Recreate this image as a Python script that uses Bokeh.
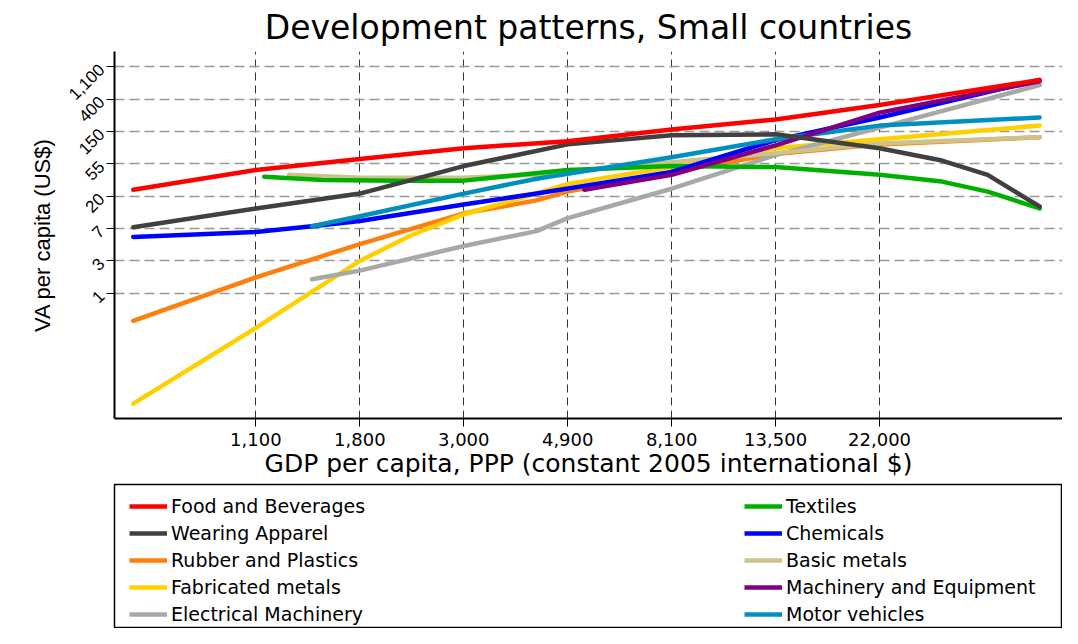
import math
from bokeh.plotting import figure
from bokeh.layouts import column
from bokeh.models import Range1d, FixedTicker, Legend, LegendItem
from bokeh.embed import file_html
from bokeh.resources import INLINE

# values in natural-log units: ln(GDP per capita), ln(VA per capita)
food_x = [6.41, 7.0, 7.5, 8.0, 8.5, 9.0, 9.5, 10.0, 10.77]
food_y = [3.2, 3.81, 4.15, 4.48, 4.7, 5.06, 5.37, 5.82, 6.59]
wear_x = [6.41, 7.0, 7.5, 8.0, 8.5, 9.0, 9.5, 10.0, 10.3, 10.52, 10.77]
wear_y = [2.04, 2.62, 3.08, 3.93, 4.6, 4.88, 4.91, 4.48, 4.1, 3.66, 2.68]
text_x = [7.04, 7.32, 7.69, 8.0, 8.5, 9.0, 9.5, 10.0, 10.3, 10.52, 10.77]
text_y = [3.6, 3.5, 3.48, 3.48, 3.81, 3.93, 3.9, 3.66, 3.45, 3.14, 2.62]
chem_x = [6.41, 7.0, 7.27, 7.5, 8.0, 8.35, 9.0, 9.5, 10.0, 10.77]
chem_y = [1.74, 1.89, 2.07, 2.23, 2.74, 3.08, 3.75, 4.73, 5.43, 6.59]
rubb_x = [6.41, 7.0, 7.5, 8.0, 8.35, 8.5, 9.0, 9.5, 10.0, 10.77]
rubb_y = [-0.85, 0.49, 1.52, 2.47, 2.87, 3.14, 3.75, 4.3, 4.6, 4.82]
basic_x = [7.16, 7.5, 8.0, 8.35, 8.5, 9.0, 9.5, 10.0, 10.77]
basic_y = [3.66, 3.57, 3.57, 3.66, 3.75, 4.05, 4.33, 4.63, 4.82]
fabr_x = [6.41, 7.0, 7.5, 7.74, 8.0, 8.35, 8.5, 9.0, 9.5, 10.0, 10.77]
fabr_y = [-3.41, -1.07, 1.0, 1.77, 2.44, 3.08, 3.38, 3.9, 4.48, 4.76, 5.18]
mach_x = [8.58, 9.0, 9.5, 10.0, 10.77]
mach_y = [3.2, 3.66, 4.57, 5.58, 6.55]
elec_x = [7.27, 7.5, 8.0, 8.35, 8.5, 9.0, 9.5, 10.0, 10.77]
elec_y = [0.43, 0.7, 1.46, 1.92, 2.32, 3.23, 4.27, 5.12, 6.43]
motor_x = [7.27, 7.5, 8.0, 8.35, 8.5, 9.0, 9.5, 10.0, 10.77]
motor_y = [2.07, 2.38, 3.08, 3.54, 3.69, 4.2, 4.76, 5.18, 5.43]

x_ticks = [7, 7.5, 8, 8.5, 9, 9.5, 10]
x_labels = ["1,100", "1,800", "3,000", "4,900", "8,100", "13,500", "22,000"]
y_ticks = [0, 1, 2, 3, 4, 5, 6, 7]
y_labels = ["1", "3", "7", "20", "55", "150", "400", "1,100"]

series = [
    ("Food and Beverages", food_x, food_y, "#ff0000"),
    ("Textiles", text_x, text_y, "#00b000"),
    ("Wearing Apparel", wear_x, wear_y, "#404040"),
    ("Chemicals", chem_x, chem_y, "#0000ff"),
    ("Rubber and Plastics", rubb_x, rubb_y, "#ff7f0e"),
    ("Basic metals", basic_x, basic_y, "#cdc38a"),
    ("Fabricated metals", fabr_x, fabr_y, "#ffd000"),
    ("Machinery and Equipment", mach_x, mach_y, "#800080"),
    ("Electrical Machinery", elec_x, elec_y, "#a8a8a8"),
    ("Motor vehicles", motor_x, motor_y, "#0090c0"),
]
draw_order = [4, 6, 8, 5, 1, 3, 9, 7, 2, 0]

FONT = "Liberation Sans"
WIDE = "DejaVu Sans"
p = figure(width=1062, height=480, output_backend="svg", toolbar_location=None,
           x_range=Range1d(6.32, 10.88), y_range=Range1d(-3.87, 7.47),
           title="Development patterns, Small countries",
           min_border_left=100, min_border_right=0, min_border_top=0)
p.title.align = "center"
p.title.text_font = WIDE
p.title.text_font_size = "33px"
p.title.text_font_style = "normal"
p.title.text_color = "black"
p.outline_line_color = None

p.xaxis.ticker = FixedTicker(ticks=x_ticks)
p.xaxis.major_label_overrides = dict(zip(x_ticks, x_labels))
p.yaxis.ticker = FixedTicker(ticks=y_ticks)
p.yaxis.major_label_overrides = dict(zip(y_ticks, y_labels))
p.yaxis.major_label_orientation = math.pi / 4
for ax in (p.xaxis, p.yaxis):
    ax.minor_tick_line_color = None
    ax.axis_line_color = "black"
    ax.axis_line_width = 2
    ax.major_tick_line_color = "black"
    ax.major_tick_out = 8
    ax.major_tick_in = 0
    ax.major_label_text_font = FONT
    ax.major_label_text_font_size = "17px"
    ax.major_label_text_color = "black"
    ax.axis_label_text_font = FONT
    ax.axis_label_text_font_size = "22px"
    ax.axis_label_text_font_style = "normal"
    ax.axis_label_text_color = "black"
p.xaxis.major_label_text_font = WIDE
p.xaxis.major_label_text_font_size = "18px"
p.xaxis.axis_label_text_font = WIDE
p.xaxis.axis_label_text_font_size = "25px"
p.xaxis.axis_label = "GDP per capita, PPP (constant 2005 international $)"
p.yaxis.axis_label = "VA per capita (US$)"
p.xaxis.axis_label_standoff = 0
p.xaxis.major_label_standoff = 6

p.xgrid.grid_line_color = "#333333"
p.xgrid.grid_line_dash = "8 5"
p.xgrid.grid_line_width = 1
p.ygrid.grid_line_color = "#999999"
p.ygrid.grid_line_dash = "10 5"
p.ygrid.grid_line_width = 1.5

for i in draw_order:
    name, xs, ys, c = series[i]
    p.line(xs, ys, line_color=c, line_width=4.5, line_cap="round", line_join="round")

# legend in its own boxed panel below the chart
lg = figure(width=1062, height=148, output_backend="svg", toolbar_location=None,
            x_range=Range1d(0, 1), y_range=Range1d(0, 1),
            min_border_left=114, min_border_right=0, min_border_top=4,
            min_border_bottom=1, outline_line_color="black", outline_line_width=1.5)
lg.axis.visible = False
lg.grid.visible = False
dummy = {}
for i, (name, xs, ys, c) in enumerate(series):
    dummy[i] = lg.line([-10, -9], [-10, -9], line_color=c, line_width=4.5)


def make_legend(idx, x):
    return Legend(items=[LegendItem(label=series[i][0], renderers=[dummy[i]]) for i in idx],
                  location=(x, 2), label_text_font=WIDE, label_text_font_size="19px",
                  label_text_color="black", glyph_width=38, glyph_height=20,
                  label_height=20, spacing=5, padding=0, margin=0,
                  border_line_color=None, background_fill_alpha=0,
                  label_standoff=4)


lg.add_layout(make_legend([0, 2, 4, 6, 8], 15), "center")
lg.add_layout(make_legend([1, 3, 5, 7, 9], 630), "center")

open("out.html", "w").write(file_html(column(p, lg, spacing=0), INLINE))
